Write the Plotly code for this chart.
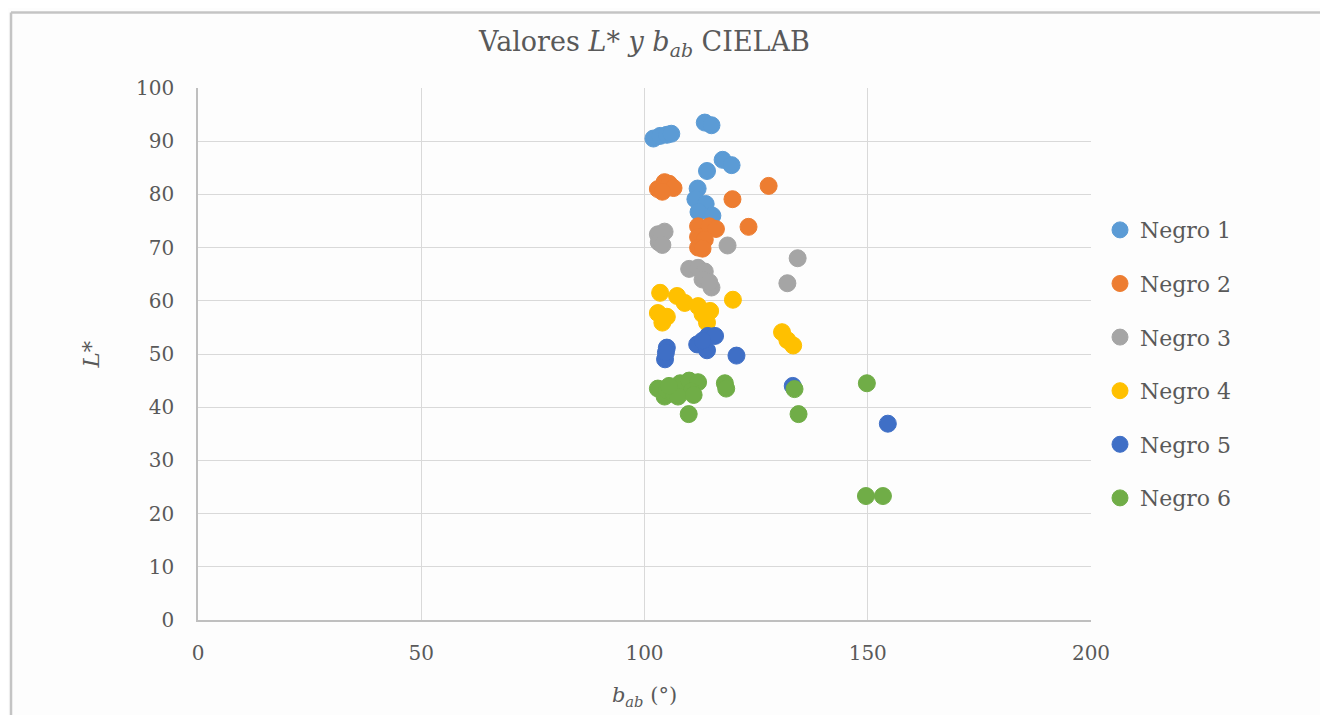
import plotly.graph_objects as go

series_names = ["Negro 1", "Negro 2", "Negro 3", "Negro 4", "Negro 5", "Negro 6"]
colors = ["#5B9BD5", "#ED7D31", "#A5A5A5", "#FFC000", "#3F6FC6", "#70AD47"]

n1_x = [102, 103.5, 105, 106, 113.5, 115, 117.5, 119.5, 114, 111.9, 111.4, 113.7, 112.1, 115.2]
n1_y = [90.5, 91, 91.2, 91.4, 93.5, 93, 86.5, 85.5, 84.4, 81.1, 79.1, 78.2, 76.7, 76]

n2_x = [103, 104.5, 105.5, 106.5, 104, 127.8, 119.7, 123.3, 112, 114.5, 116, 112, 113.5, 112, 113]
n2_y = [81, 82.3, 82, 81.2, 80.5, 81.6, 79.1, 73.9, 74, 74, 73.5, 72, 71.5, 70, 69.8]

n3_x = [103, 104.5, 103.2, 104, 118.6, 134.3, 132, 110, 112, 113.5, 113, 115, 114.5]
n3_y = [72.5, 73, 71, 70.5, 70.4, 68, 63.3, 66, 66.2, 65.5, 64, 62.5, 63.5]

n4_x = [103.5, 107.3, 109, 103, 104, 105, 112, 114.7, 114, 113, 119.8, 130.8, 133.3, 132]
n4_y = [61.5, 60.9, 59.6, 57.7, 55.9, 57, 59, 58.1, 55.9, 57.5, 60.2, 54.1, 51.6, 52.6]

n5_x = [105, 104.6, 104.8, 114.2, 111.8, 114, 115.8, 113, 120.6, 133.2, 154.5]
n5_y = [51.2, 49, 50.3, 53.4, 51.8, 50.7, 53.4, 52.5, 49.7, 44, 36.9]

n6_x = [103, 104.5, 105, 106.5, 108, 110, 112, 110.5, 107.5, 111, 105.5, 118, 118.3, 109.9, 133.6, 134.5, 149.8, 149.6, 153.4]
n6_y = [43.5, 42, 43.2, 42.5, 44.5, 45, 44.7, 43, 42, 42.3, 44, 44.5, 43.5, 38.7, 43.4, 38.7, 44.5, 23.3, 23.3]

xs = [n1_x, n2_x, n3_x, n4_x, n5_x, n6_x]
ys = [n1_y, n2_y, n3_y, n4_y, n5_y, n6_y]

x_ticks = [0, 50, 100, 150, 200]
y_ticks = [0, 10, 20, 30, 40, 50, 60, 70, 80, 90, 100]

FONT = "DejaVu Serif"
GRAY = "#595959"

# page body has an 8px margin; figure size/margins compensate
OFF = 8
W, H = 1328 - OFF, 715 - OFF
L, T, R, B = 198 - OFF, 88 - OFF, 237, 91
PW = W - L - R
PH = H - T - B

fig = go.Figure()
for name, c, x, y in zip(series_names, colors, xs, ys):
    fig.add_trace(go.Scatter(
        x=x, y=y, mode="markers", name=name, legendgroup=name,
        marker=dict(size=17, color=c, line=dict(width=1, color=c)),
    ))

fx = lambda px: (px - OFF - L) / PW
fy = lambda py: (T + PH - (py - OFF)) / PH

fig.update_layout(
    width=W, height=H,
    paper_bgcolor="#fdfdfd", plot_bgcolor="#fdfdfd",
    margin=dict(l=L, r=R, t=T, b=B),
    title=dict(
        text="Valores <i>L*</i> <i>y</i> <i>b</i><sub><i>ab</i></sub> CIELAB",
        x=(L + PW / 2) / W, xanchor="center", y=1 - (42 - OFF) / H, yanchor="middle",
        font=dict(family=FONT, size=27, color=GRAY),
    ),
    showlegend=True,
    legend=dict(
        x=fx(1100), y=fy(210), xanchor="left", yanchor="top",
        font=dict(family=FONT, size=22, color=GRAY),
        tracegroupgap=22, bgcolor="rgba(0,0,0,0)",
    ),
    xaxis=dict(
        range=[0, 200], tickvals=x_ticks, ticktext=[str(v) for v in x_ticks],
        showgrid=True, gridcolor="#d9d9d9", gridwidth=1,
        showline=True, linecolor="#bfbfbf", linewidth=1.5,
        zeroline=False, ticks="", ticklabelstandoff=14,
        tickfont=dict(family=FONT, size=20, color=GRAY),
        title=dict(text="<i>b</i><sub><i>ab</i></sub> (°)", standoff=24,
                   font=dict(family=FONT, size=21, color=GRAY)),
    ),
    yaxis=dict(
        range=[0, 100], tickvals=y_ticks, ticktext=[str(v) for v in y_ticks],
        showgrid=True, gridcolor="#d9d9d9", gridwidth=1,
        showline=True, linecolor="#bfbfbf", linewidth=1.5,
        zeroline=False, ticks="", ticklabelstandoff=18,
        tickfont=dict(family=FONT, size=20, color=GRAY),
        title=dict(text="<i>L*</i>", standoff=30,
                   font=dict(family=FONT, size=23, color=GRAY)),
    ),
    shapes=[
        dict(type="line", xref="paper", yref="paper",
             x0=fx(11), x1=fx(11), y0=fy(760), y1=fy(12),
             line=dict(color="#c4c4c4", width=2.5), layer="above"),
        dict(type="line", xref="paper", yref="paper",
             x0=fx(11), x1=fx(1340), y0=fy(12), y1=fy(12),
             line=dict(color="#c4c4c4", width=2.5), layer="above"),
    ],
)

fig.write_html("out.html")
